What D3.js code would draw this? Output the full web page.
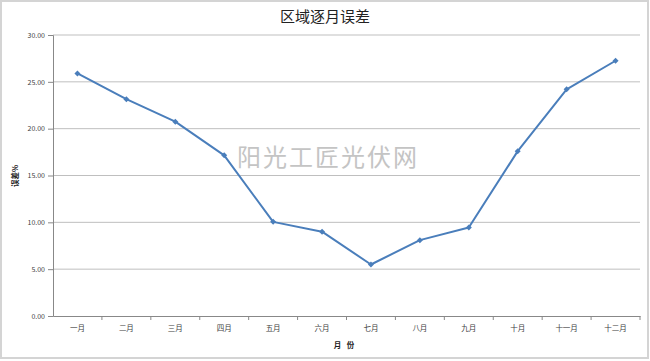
<!DOCTYPE html>
<html>
<head>
<meta charset="utf-8">
<script src="https://cdn.jsdelivr.net/npm/d3@7"></script>
<style>
  body { margin: 0; background: #fff; }
  text { font-family: "Noto Sans CJK SC", "DejaVu Sans", sans-serif; }
</style>
</head>
<body>
<div id="chart"></div>
<script>
/* 区域逐月误差 line chart */

var months = ["一月", "二月", "三月", "四月", "五月", "六月", "七月", "八月", "九月", "十月", "十一月", "十二月"];
var errors = [25.9, 23.15, 20.75, 17.15, 10.05, 9.0, 5.5, 8.1, 9.45, 17.6, 24.2, 27.25];
var yTicks = [0, 5, 10, 15, 20, 25, 30];

var W = 650, H = 361;
// plot area
var margin = {top: 35, right: 10, bottom: 45, left: 53},
    width = 640 - margin.left,
    height = 316 - margin.top;

var svg = d3.select("#chart").append("svg")
    .attr("width", W)
    .attr("height", H);

// outer frame
svg.append("rect")
    .attr("x", 1).attr("y", 1)
    .attr("width", W - 3).attr("height", H - 4)
    .attr("fill", "#fff")
    .attr("stroke", "#d4d4d4")
    .attr("stroke-width", 2);

var g = svg.append("g")
    .attr("transform", "translate(" + margin.left + "," + margin.top + ")");

var x = d3.scaleBand().domain(months).range([0, width]);
var y = d3.scaleLinear().domain([0, 30]).range([height, 0]);

// gridlines
g.selectAll(".grid")
    .data(yTicks.filter(function(d) { return d > 0; }))
    .enter().append("line")
    .attr("x1", 0).attr("x2", width)
    .attr("y1", function(d) { return y(d); })
    .attr("y2", function(d) { return y(d); })
    .attr("stroke", "#bfbfbf")
    .attr("stroke-width", 1);

// watermark
svg.append("text")
    .attr("x", 328).attr("y", 166)
    .attr("text-anchor", "middle")
    .attr("font-size", 24)
    .attr("fill", "#c4c4c4")
    .attr("letter-spacing", 2)
    .text("阳光工匠光伏网");

// y axis
var yAxis = g.append("g")
    .call(d3.axisLeft(y).tickValues(yTicks).tickSize(5).tickFormat(d3.format(".2f")));
yAxis.select(".domain").attr("stroke", "#888");
yAxis.selectAll(".tick line").attr("stroke", "#888");
yAxis.selectAll("text").attr("font-size", 7).attr("fill", "#404040")
    .attr("font-family", "Liberation Sans, Arial, sans-serif").attr("x", -8);

// x axis
var xAxis = g.append("g")
    .attr("transform", "translate(0," + height + ")")
    .call(d3.axisBottom(x).tickSize(0).tickPadding(10));
xAxis.select(".domain").attr("stroke", "#888");
xAxis.selectAll("text").attr("font-size", 7.5).attr("fill", "#404040");
// tick marks at category boundaries
xAxis.selectAll(".bnd")
    .data(months)
    .enter().append("line")
    .attr("x1", function(d) { return x(d) + x.bandwidth(); })
    .attr("x2", function(d) { return x(d) + x.bandwidth(); })
    .attr("y1", 0).attr("y2", 4)
    .attr("stroke", "#888");

// line
var line = d3.line()
    .x(function(d, i) { return x(months[i]) + x.bandwidth() / 2; })
    .y(function(d) { return y(d); });

g.append("path")
    .datum(errors)
    .attr("fill", "none")
    .attr("stroke", "#4a7ebb")
    .attr("stroke-width", 2)
    .attr("stroke-linejoin", "round")
    .attr("d", line);

// diamond markers (square turned 45deg)
g.selectAll(".pt")
    .data(errors)
    .enter().append("path")
    .attr("d", d3.symbol().type(d3.symbolSquare).size(18))
    .attr("transform", function(d, i) {
      return "translate(" + (x(months[i]) + x.bandwidth() / 2) + "," + y(d) + ") rotate(45)";
    })
    .attr("fill", "#4a7ebb");

// title
svg.append("text")
    .attr("x", 325).attr("y", 22)
    .attr("text-anchor", "middle")
    .attr("font-size", 15)
    .attr("fill", "#222")
    .text("区域逐月误差");

// axis titles
svg.append("text")
    .attr("transform", "translate(18,176) rotate(-90)")
    .attr("text-anchor", "middle")
    .attr("font-size", 7.5)
    .attr("font-weight", "bold")
    .attr("fill", "#222")
    .text("误差%");

svg.append("text")
    .attr("x", 345).attr("y", 348)
    .attr("text-anchor", "middle")
    .attr("font-size", 7.5)
    .attr("font-weight", "bold")
    .attr("fill", "#222")
    .attr("letter-spacing", 2)
    .text("月\u00a0份");
</script>
</body>
</html>
